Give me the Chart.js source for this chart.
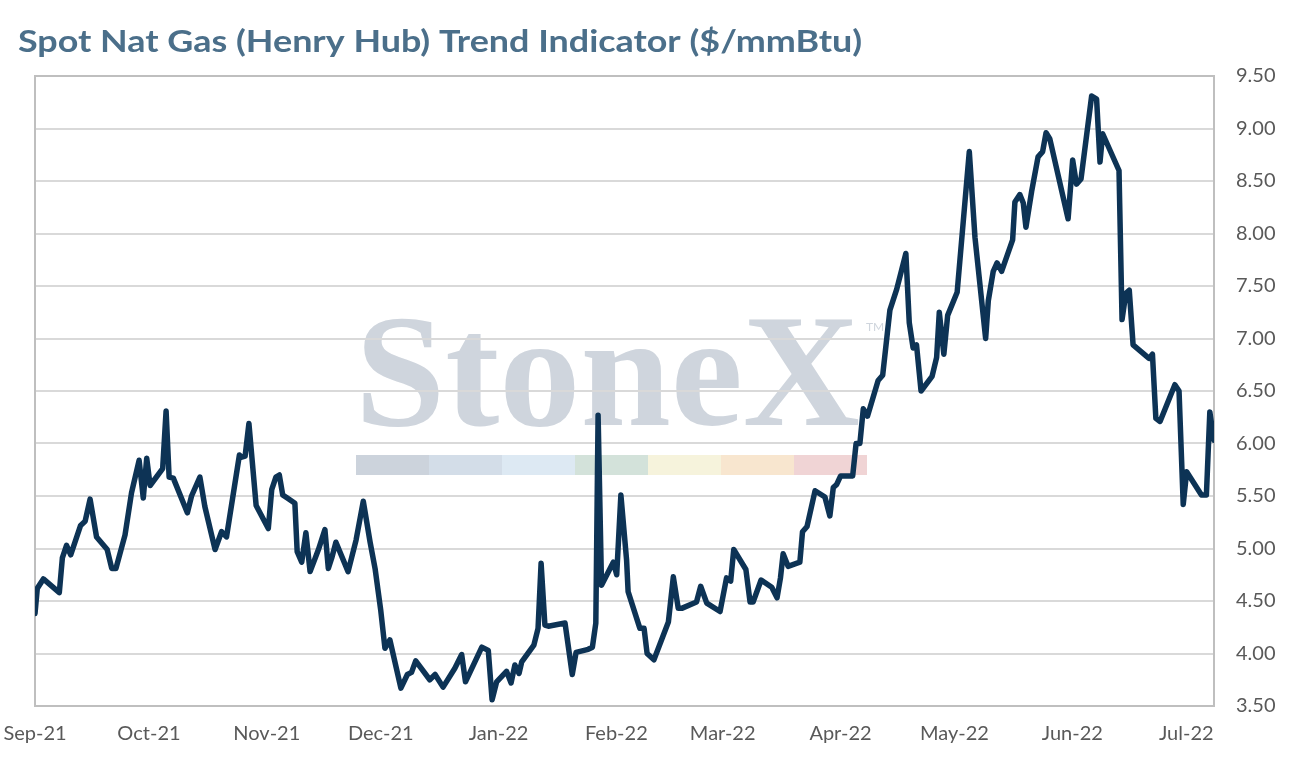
<!DOCTYPE html>
<html lang="en">
<head>
<meta charset="UTF-8">
<title>Spot Nat Gas (Henry Hub) Trend Indicator</title>
<script src="https://cdn.jsdelivr.net/npm/chart.js"></script>
<style>
  html, body { margin: 0; padding: 0; background: #fff; }
  #wrap { width: 1292px; height: 766px; position: relative; }
</style>
</head>
<body>
<div id="wrap"><canvas id="gasChart"></canvas></div>
<script>
// days since 1 Sep 2021
const days = [
  0.0, 0.6, 2.2, 6.4, 7.2, 8.3, 9.4, 12.0, 13.2, 14.5, 16.2, 19.0, 20.2, 21.3, 23.7, 25.4,
  27.4, 28.5, 29.4, 30.3, 33.6, 34.5, 35.3, 36.4, 40.1, 41.2, 43.4, 44.7, 47.4, 49.1, 50.4, 53.8,
  54.4, 55.3, 56.3, 58.2, 61.4, 62.3, 63.4, 64.3, 65.2, 66.4, 68.4, 69.0, 70.2, 71.3, 72.4, 74.6,
  76.3, 77.2, 78.1, 79.2, 82.4, 84.5, 86.4, 88.2, 89.5, 91.0, 92.1, 93.4, 96.3, 98.0, 99.1, 100.2,
  103.9, 105.3, 107.4, 110.5, 112.3, 113.3, 117.6, 119.3, 120.3, 121.5, 124.1, 125.3, 126.3, 127.4, 128.1, 131.3,
  132.4, 133.2, 134.2, 135.1, 139.5, 141.4, 142.4, 145.6, 146.7, 147.6, 148.2, 149.1, 152.2, 153.1, 154.2, 155.7,
  156.1, 159.2, 160.3, 161.1, 162.9, 166.7, 168.0, 169.3, 170.2, 174.1, 175.2, 176.8, 180.3, 182.0, 183.1, 183.9,
  187.1, 188.2, 189.0, 191.1, 193.9, 195.3, 196.2, 196.9, 198.2, 201.3, 202.0, 203.2, 205.3, 207.9, 209.2, 210.1,
  211.0, 212.0, 215.2, 216.1, 217.1, 218.0, 219.1, 221.9, 223.1, 225.0, 226.8, 229.2, 230.1, 231.1, 232.0, 233.2,
  236.1, 237.3, 238.0, 239.2, 240.2, 242.7, 245.9, 247.4, 250.2, 250.9, 252.2, 253.2, 254.4, 257.3, 257.9, 259.2,
  260.1, 260.8, 262.3, 264.0, 265.2, 266.1, 267.1, 271.9, 273.1, 274.1, 275.3, 278.1, 279.4, 280.3, 281.0, 285.3,
  286.1, 287.1, 288.0, 289.0, 293.2, 294.1, 295.0, 296.1, 300.0, 301.1, 302.2, 303.1, 307.0, 308.3, 309.2, 310.3
];
const prices = [
  4.38, 4.62, 4.71, 4.58, 4.91, 5.03, 4.94, 5.22, 5.26, 5.47, 5.11, 4.99, 4.81, 4.81, 5.13, 5.53,
  5.84, 5.48, 5.86, 5.60, 5.76, 6.31, 5.68, 5.67, 5.34, 5.50, 5.68, 5.40, 4.99, 5.16, 5.11, 5.89,
  5.87, 5.88, 6.19, 5.41, 5.19, 5.56, 5.68, 5.70, 5.51, 5.48, 5.43, 4.97, 4.87, 5.15, 4.78, 4.99,
  5.18, 4.81, 4.91, 5.06, 4.78, 5.08, 5.45, 5.06, 4.81, 4.41, 4.05, 4.13, 3.67, 3.80, 3.82, 3.93,
  3.75, 3.80, 3.68, 3.86, 3.99, 3.73, 4.06, 4.03, 3.56, 3.73, 3.83, 3.72, 3.89, 3.81, 3.92, 4.08,
  4.24, 4.86, 4.27, 4.26, 4.29, 3.80, 4.01, 4.04, 4.06, 4.29, 6.27, 4.65, 4.87, 4.75, 5.51, 4.89,
  4.59, 4.24, 4.24, 4.00, 3.94, 4.30, 4.73, 4.43, 4.43, 4.49, 4.64, 4.48, 4.40, 4.72, 4.69, 4.99,
  4.80, 4.49, 4.49, 4.70, 4.63, 4.53, 4.72, 4.95, 4.83, 4.87, 5.16, 5.21, 5.55, 5.49, 5.31, 5.58,
  5.61, 5.69, 5.69, 6.00, 6.00, 6.33, 6.26, 6.60, 6.65, 7.27, 7.47, 7.81, 7.15, 6.91, 6.94, 6.50,
  6.64, 6.82, 7.25, 6.85, 7.22, 7.44, 8.78, 7.96, 7.00, 7.36, 7.64, 7.72, 7.64, 7.94, 8.30, 8.37,
  8.29, 8.06, 8.40, 8.73, 8.78, 8.96, 8.90, 8.14, 8.70, 8.47, 8.52, 9.31, 9.28, 8.68, 8.95, 8.60,
  7.18, 7.43, 7.46, 6.94, 6.81, 6.85, 6.24, 6.21, 6.56, 6.50, 5.42, 5.73, 5.51, 5.51, 6.30, 6.03
];

const monthTicks = [0, 30, 61, 91, 122, 153, 181, 212, 242, 273, 303];
const monthLabels = ['Sep-21', 'Oct-21', 'Nov-21', 'Dec-21', 'Jan-22', 'Feb-22', 'Mar-22', 'Apr-22', 'May-22', 'Jun-22', 'Jul-22'];
const yTicks = [3.5, 4, 4.5, 5, 5.5, 6, 6.5, 7, 7.5, 8, 8.5, 9, 9.5];
const titleText = 'Spot Nat Gas (Henry Hub) Trend Indicator ($/mmBtu)';
const barColors = ['#ccd3dc', '#d3dde8', '#dde9f3', '#d3e2da', '#f6f3dc', '#f8e6cf', '#f0d4d5'];

const points = days.map((d, i) => ({ x: d, y: prices[i] }));

// title, watermark and plot frame
const decor = {
  id: 'decor',
  beforeDraw(chart) {
    const ctx = chart.ctx;
    ctx.save();
    ctx.fillStyle = '#4b6f8a';
    ctx.font = 'bold 31px Lato, "Open Sans", sans-serif';
    ctx.textBaseline = 'alphabetic';
    const tw = ctx.measureText(titleText).width;
    ctx.translate(18, 52);
    ctx.scale(844 / tw, 1);
    ctx.fillText(titleText, 0, 0);
    ctx.restore();

    // StoneX watermark
    ctx.save();
    ctx.fillStyle = '#cfd5dd';
    ctx.font = 'bold 160px "Liberation Serif", "DejaVu Serif", serif';
    const ww = ctx.measureText('StoneX').width;
    ctx.translate(355, 425);
    ctx.scale(505 / ww, 1);
    ctx.fillText('StoneX', 0, 0);
    ctx.restore();

    ctx.save();
    ctx.fillStyle = '#cfd5dd';
    ctx.font = '12px Lato, sans-serif';
    ctx.fillText('TM', 866, 331);
    const segW = 73;
    barColors.forEach((c, i) => {
      ctx.fillStyle = c;
      ctx.fillRect(356 + i * segW, 455, segW, 20);
    });
    ctx.restore();
  },
  beforeDatasetsDraw(chart) {
    const ctx = chart.ctx;
    const a = chart.chartArea;
    ctx.save();
    ctx.strokeStyle = '#bfbfbf';
    ctx.lineWidth = 2;
    ctx.strokeRect(a.left, a.top, a.right - a.left, a.bottom - a.top);
    ctx.restore();
  }
};

new Chart(document.getElementById('gasChart'), {
  type: 'line',
  data: {
    datasets: [{
      label: 'Spot Nat Gas',
      data: points,
      borderColor: '#0d3355',
      borderWidth: 5.5,
      pointRadius: 0,
      tension: 0,
      borderJoinStyle: 'round',
      borderCapStyle: 'round'
    }]
  },
  options: {
    responsive: true,
    maintainAspectRatio: false,
    animation: false,
    layout: { padding: { left: 35, top: 76, right: 0, bottom: 0 } },
    plugins: {
      legend: { display: false },
      tooltip: { enabled: false }
    },
    scales: {
      x: {
        type: 'linear',
        min: 0,
        max: 310.3,
        afterBuildTicks: s => { s.ticks = monthTicks.map(v => ({ value: v })); },
        afterFit: s => { s.height = 60; s.paddingLeft = 0; s.paddingRight = 0; },
        grid: { display: false },
        border: { display: false },
        ticks: {
          autoSkip: false,
          maxRotation: 0,
          padding: 8,
          color: '#595959',
          font: { family: 'Lato, sans-serif', size: 20 },
          callback: v => monthLabels[monthTicks.indexOf(v)]
        }
      },
      y: {
        position: 'right',
        min: 3.5,
        max: 9.5,
        afterBuildTicks: s => { s.ticks = yTicks.map(v => ({ value: v })); },
        afterFit: s => { s.width = 78; },
        grid: { color: '#d9d9d9', lineWidth: 2, drawTicks: false },
        border: { display: false },
        ticks: {
          padding: 22,
          color: '#595959',
          font: { family: 'Lato, sans-serif', size: 20 },
          callback: v => v.toFixed(2)
        }
      }
    }
  },
  plugins: [decor]
});
</script>
</body>
</html>
